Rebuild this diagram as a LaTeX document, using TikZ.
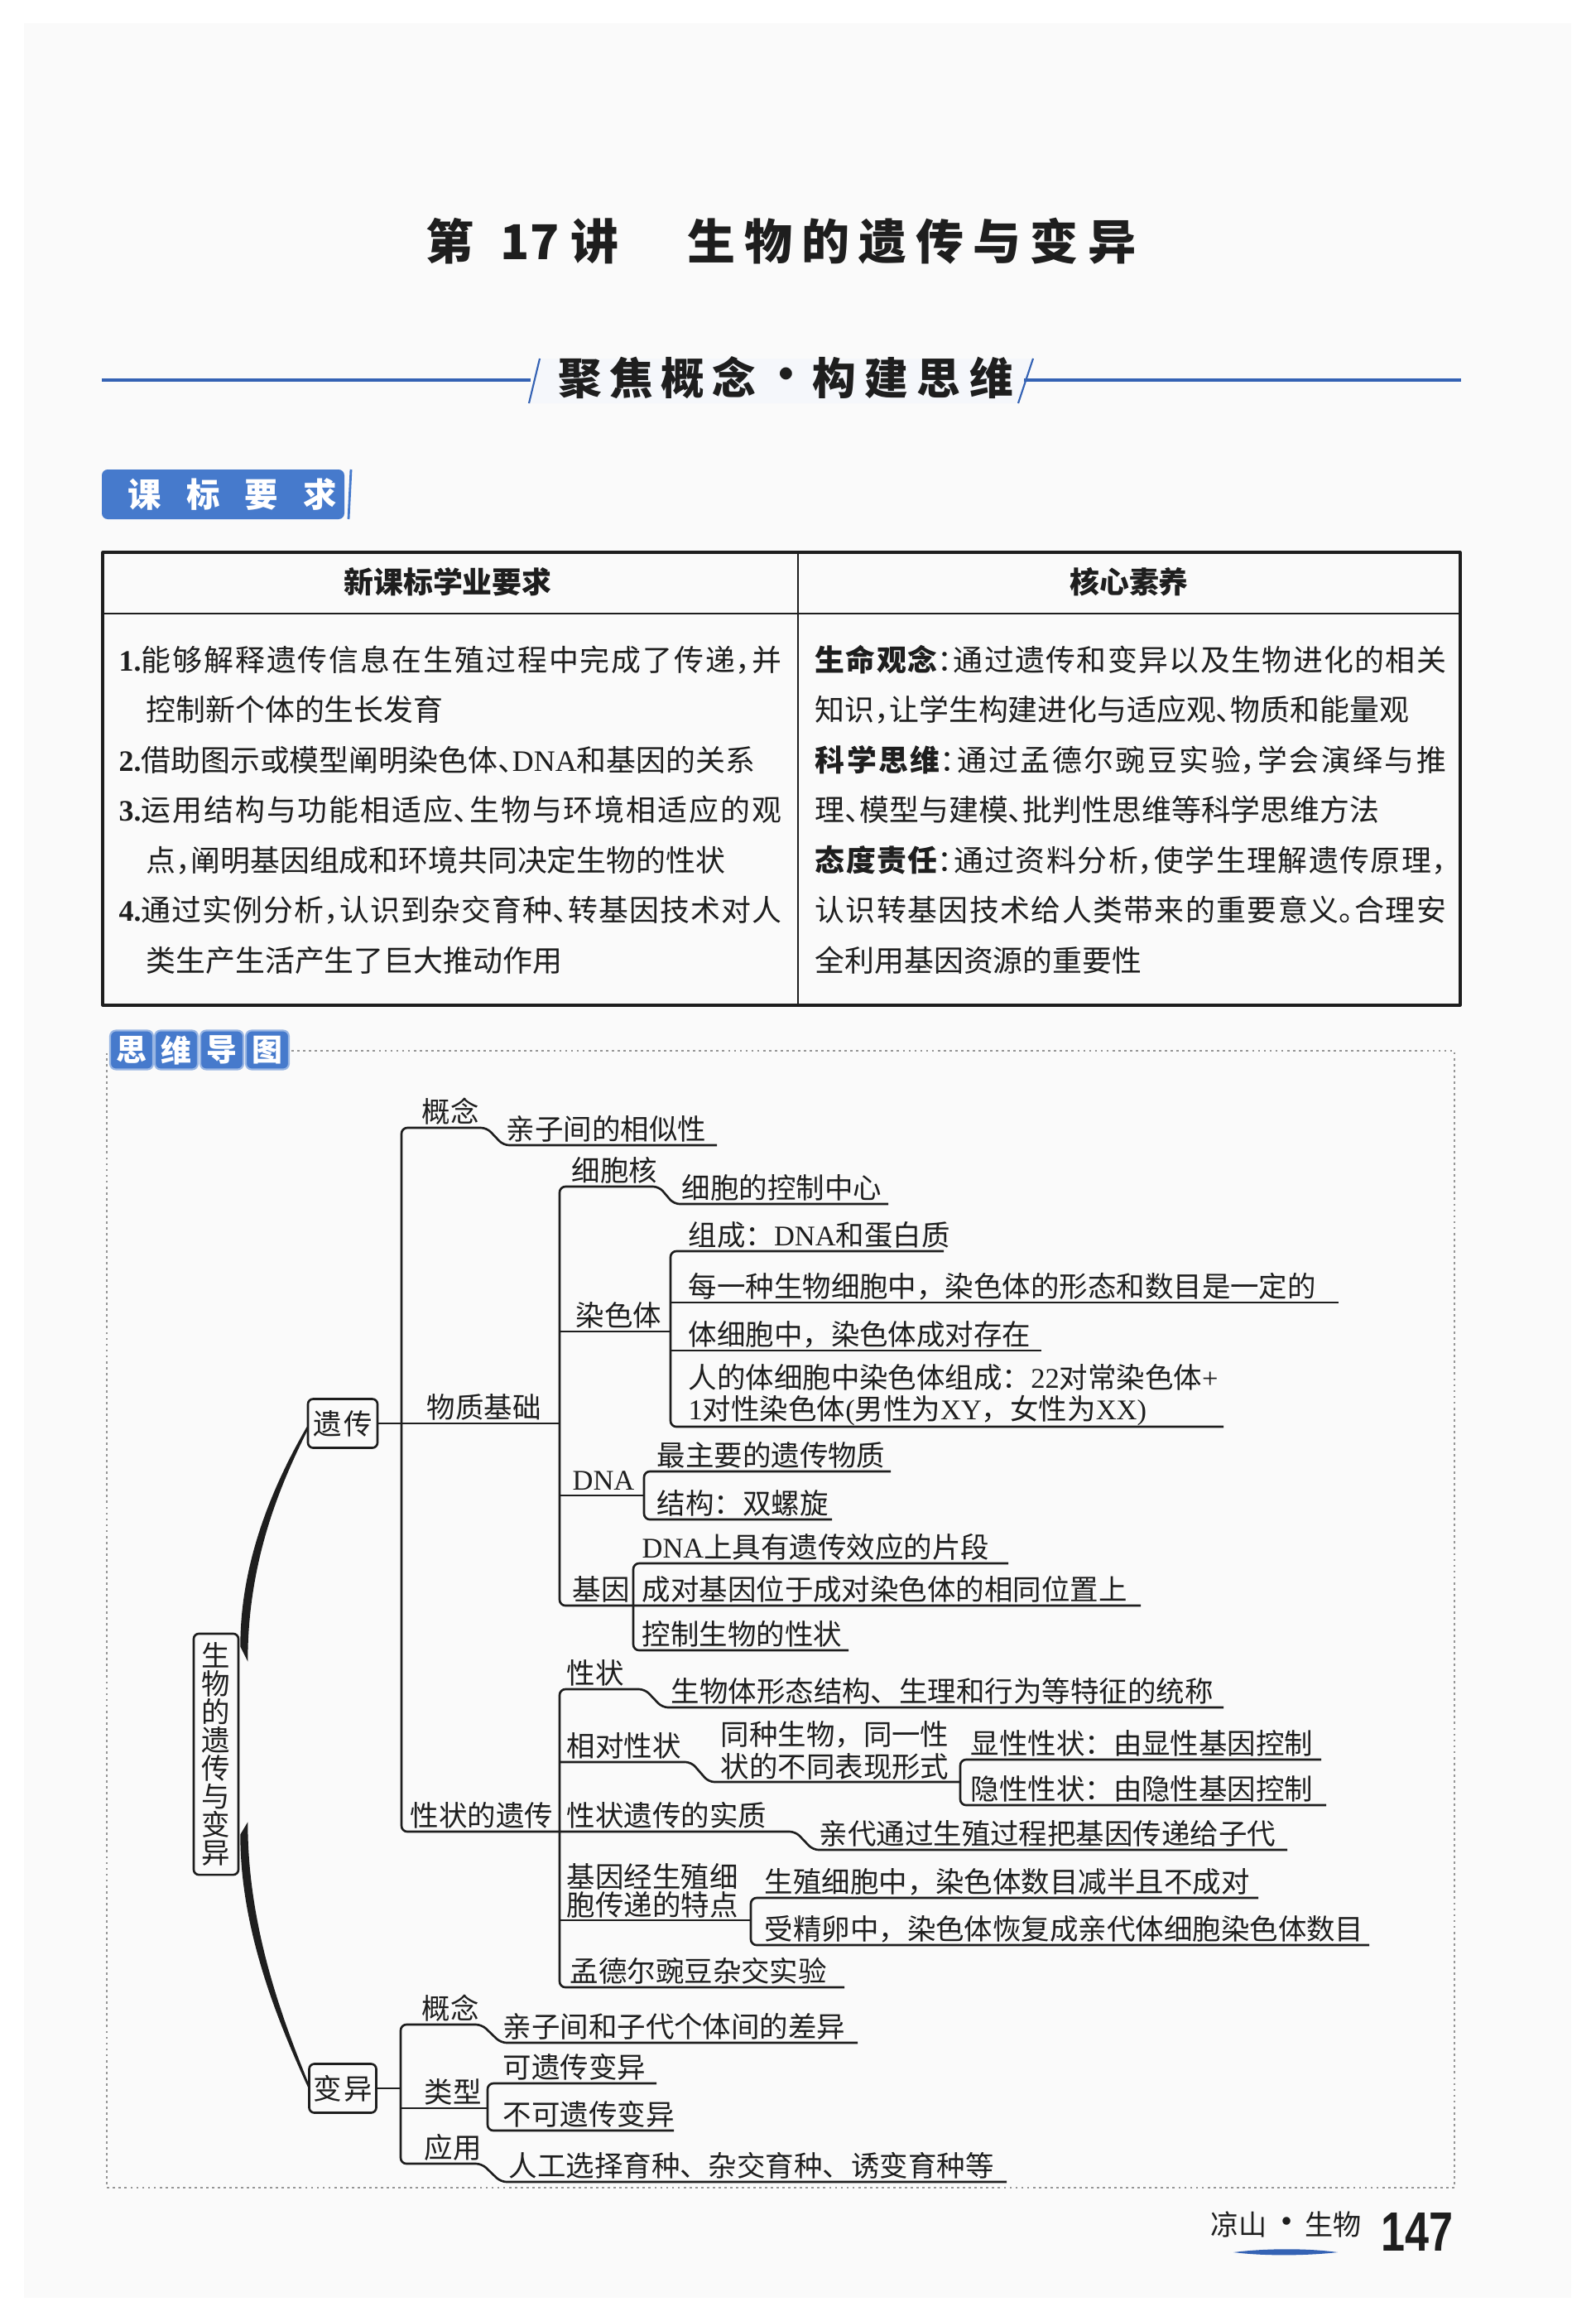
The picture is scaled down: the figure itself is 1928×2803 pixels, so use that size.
\documentclass[tikz,border=0pt]{standalone}
\usepackage{fontspec}
\usepackage{graphicx}
\usetikzlibrary{calc}
\setmainfont{Noto Sans CJK SC}
\newfontfamily\cjk{Noto Sans CJK SC}
\newfontfamily\tabcjk[RawFeature=+halt]{Noto Sans CJK SC}
\newfontfamily\lat{Liberation Serif}
\newfontfamily\arialf{Liberation Sans}
\XeTeXlinebreaklocale "zh"
\XeTeXlinebreakskip=0pt plus 1fil
\definecolor{hblue}{RGB}{52,98,180}
\definecolor{tblue}{RGB}{70,122,204}
\definecolor{ink}{RGB}{30,30,30}
\definecolor{dotgray}{RGB}{150,150,150}
\definecolor{pagebg}{RGB}{250,250,250}
\newcommand\jl[2]{\parbox[b]{#1}{\parfillskip=0pt\relax\noindent#2}}
\newcommand\mmf{\cjk\fontsize{9.8pt}{11pt}\selectfont}
\newcommand\tbf{\tabcjk\fontsize{10.2pt}{12pt}\selectfont}
\begin{document}
\begin{tikzpicture}[x=0.01cm,y=-0.01cm,line join=round,
  tx/.style={anchor=base west,inner sep=0pt,font=\mmf,text=ink},
  tb/.style={anchor=base west,inner sep=0pt,font=\tbf,text=ink},
  ttl/.style={anchor=base west,inner sep=0pt,font=\cjk\bfseries\fontsize{16.5pt}{18pt}\selectfont,text=ink},
  hdr/.style={anchor=base west,inner sep=0pt,font=\cjk\bfseries\fontsize{15pt}{16pt}\selectfont,text=ink},
  ln/.style={draw=ink,line width=0.75pt,rounded corners=2pt},
  mbox/.style={draw=ink,line width=0.75pt,rounded corners=1.8pt,inner sep=0pt,font=\mmf,text=ink},
  tabk/.style={fill=tblue,draw=tblue!55!white,line width=0.6pt,rounded corners=2pt,minimum width=0.52cm,minimum height=0.47cm,inner sep=0pt,text=white,font=\cjk\bfseries\fontsize{10.5pt}{11pt}\selectfont}]
\useasboundingbox (0,0) rectangle (1928,2803);
\fill[white] (0,0) rectangle (1928,2803);
\fill[pagebg] (29,28) rectangle (1898,2775);

% title
\node[ttl] (t1) at (514,314) {第};
\node[ttl] (t2) at (604,314) {17};
\node[ttl] (t3) at (689,314) {讲};
\node[ttl] (t4) at (830,314) {\jl{5.41cm}{生物的遗传与变异}};

% header band
\fill[hblue!5] (652,433) -- (1248,433) -- (1230,487) -- (640,487) -- cycle;
\draw[hblue,line width=1.2pt] (123,459) -- (641,459);
\draw[hblue,line width=1.2pt] (1237,459) -- (1765,459);
\draw[hblue,line width=0.6pt] (639,487) -- (652,433);
\draw[hblue,line width=0.6pt] (1230,487) -- (1248,433);
\node[hdr] (h1) at (674,476) {\jl{2.38cm}{聚焦概念}};
\node[hdr,anchor=center] (hd) at (950,458) {·};
\node[hdr] (h2) at (981,476) {\jl{2.42cm}{构建思维}};

% tab 课标要求
\fill[tblue,rounded corners=2pt] (123,567) rectangle (416,627);
\draw[tblue,line width=0.8pt] (424,567) -- (421,627);
\node[anchor=base west,inner sep=0pt,font=\cjk\bfseries\fontsize{11.5pt}{12pt}\selectfont,text=white] (kb) at (154,612) {\jl{2.52cm}{课标要求}};

% table
\draw[ink,line width=0.9pt] (124,667) rectangle (1764,1214);
\draw[ink,line width=0.55pt] (124,741) -- (1764,741);
\draw[ink,line width=0.55pt] (964,667) -- (964,1214);
\node[inner sep=0pt,font=\tbf\bfseries,text=ink] (th1) at (541,703) {新课标学业要求};
\node[inner sep=0pt,font=\tbf\bfseries,text=ink] (th2) at (1364,703) {核心素养};

\node[tb] (l1) at (143,810) {\jl{8cm}{{\lat\bfseries 1.}能够解释遗传信息在生殖过程中完成了传递，并}};
\node[tb] (l2) at (176,870.5) {控制新个体的生长发育};
\node[tb] (l3) at (143,931) {{\lat\bfseries 2.}借助图示或模型阐明染色体、{\lat DNA}和基因的关系};
\node[tb] (l4) at (143,991.5) {\jl{8cm}{{\lat\bfseries 3.}运用结构与功能相适应、生物与环境相适应的观}};
\node[tb] (l5) at (176,1052) {点，阐明基因组成和环境共同决定生物的性状};
\node[tb] (l6) at (143,1112.5) {\jl{8cm}{{\lat\bfseries 4.}通过实例分析，认识到杂交育种、转基因技术对人}};
\node[tb] (l7) at (176,1173) {类生产生活产生了巨大推动作用};

\node[tb] (r1) at (984,810) {\jl{7.62cm}{\textbf{生命观念}：通过遗传和变异以及生物进化的相关}};
\node[tb] (r2) at (984,870.5) {知识，让学生构建进化与适应观、物质和能量观};
\node[tb] (r3) at (984,931) {\jl{7.62cm}{\textbf{科学思维}：通过孟德尔豌豆实验，学会演绎与推}};
\node[tb] (r4) at (984,991.5) {理、模型与建模、批判性思维等科学思维方法};
\node[tb] (r5) at (984,1052) {\jl{7.62cm}{\textbf{态度责任}：通过资料分析，使学生理解遗传原理，}};
\node[tb] (r6) at (984,1112.5) {\jl{7.62cm}{认识转基因技术给人类带来的重要意义。合理安}};
\node[tb] (r7) at (984,1173) {全利用基因资源的重要性};

% mind map frame
\draw[dotgray,line width=0.45pt,dash pattern=on 0.8pt off 1.2pt] (352,1269) -- (1757,1269) -- (1757,2642) -- (129,2642) -- (129,1272);
\node[tabk] (s1) at (159,1268) {思};
\node[tabk] (s2) at (213,1268) {维};
\node[tabk] (s3) at (268,1268) {导};
\node[tabk] (s4) at (323,1268) {图};

% main boxes
\node[mbox,minimum width=0.54cm,minimum height=2.91cm,align=center,font=\cjk\fontsize{9.8pt}{9.7pt}\selectfont] (root) at (261,2118.5) {生\\物\\的\\遗\\传\\与\\变\\异};
\node[mbox,minimum width=0.84cm,minimum height=0.59cm] (yc) at (414,1719) {遗\kern0.03cm 传};
\node[mbox,minimum width=0.81cm,minimum height=0.59cm] (by) at (414,2522) {变\kern0.03cm 异};

% tapered curves
\fill[ink] ($(root.north east)+(1,17)$) .. controls (290,1880) and (335,1785) .. ($(yc.west)+(0,4)$) -- ($(yc.west)+(1,8)$) .. controls (339,1792) and (299,1885) .. ($(root.north east)+(10,35)$) -- cycle;
\fill[ink] ($(root.south east)+(1,-50)$) .. controls (290,2330) and (335,2440) .. ($(by.west)+(0,-1)$) -- ($(by.west)+(1,-5)$) .. controls (340,2436) and (299,2325) .. ($(root.south east)+(10,-65)$) -- cycle;

% branches of 遗传
\draw[ln] (866,1383) -- (608,1383) -- (588,1362) -- (485,1362) -- (485,2212) -- (961,2212) -- (982,2234) -- (1555,2234);
\draw[ln] (yc.east) -- (676,1719);
\draw[ln] (1073,1454) -- (814,1454) -- (796,1433) -- (676,1433) -- (676,1939) -- (1378,1939);
\draw[ln] (676,1608) -- (810,1608);
\draw[ln] (1140,1511) -- (810,1511) -- (810,1723) -- (1478,1723);
\draw[ln] (810,1573) -- (1617,1573);
\draw[ln] (810,1631) -- (1258,1631);
\draw[ln] (676,1806) -- (778,1806);
\draw[ln] (1076,1777) -- (778,1777) -- (778,1835) -- (1005,1835);
\draw[ln] (1218,1888) -- (765,1888) -- (765,1993) -- (1025,1993);
\draw[ln] (1478,2062) -- (800,2062) -- (779,2040) -- (676,2040) -- (676,2400) -- (1020,2400);
\draw[ln] (676,2128) -- (835,2128) -- (856,2152) -- (1160,2152);
\draw[ln] (1596,2125) -- (1160,2125) -- (1160,2180) -- (1602,2180);
\draw[ln] (676,2319) -- (907,2319);
\draw[ln] (1520,2292) -- (907,2292) -- (907,2349) -- (1654,2349);

% branches of 变异
\draw[ln] (by.east) -- (484,2522);
\draw[ln] (1036,2467) -- (605,2467) -- (582,2445) -- (484,2445) -- (484,2613) -- (582,2613) -- (605,2635) -- (1216,2635);
\draw[ln] (484,2546) -- (589,2546);
\draw[ln] (793,2516) -- (589,2516) -- (589,2573) -- (814,2573);

% texts
\node[tx] (a1) at (509,1355) {概念};
\node[tx] (a2) at (611,1376) {亲子间的相似性};
\node[tx] (a3) at (515,1712) {物质基础};
\node[tx] (a4) at (690,1426) {细胞核};
\node[tx] (a5) at (823,1447) {细胞的控制中心};
\node[tx] (a6) at (695,1601) {染色体};
\node[tx] (a7) at (831,1504) {组成：{\lat DNA}和蛋白质};
\node[tx] (a8) at (831,1566) {每一种生物细胞中，染色体的形态和数目是一定的};
\node[tx] (a9) at (831,1624) {体细胞中，染色体成对存在};
\node[tx] (a10) at (831,1676) {人的体细胞中染色体组成：{\lat 22}对常染色体{\lat +}};
\node[tx] (a11) at (831,1714) {{\lat 1}对性染色体{\lat (}男性为{\lat XY}，女性为{\lat XX)}};
\node[tx] (a12) at (691,1799) {\lat DNA};
\node[tx] (a13) at (793,1770) {最主要的遗传物质};
\node[tx] (a14) at (793,1828) {结构：双螺旋};
\node[tx] (a15) at (691,1932) {基因};
\node[tx] (a16) at (775,1881) {{\lat DNA}上具有遗传效应的片段};
\node[tx] (a17) at (775,1932) {成对基因位于成对染色体的相同位置上};
\node[tx] (a18) at (775,1986) {控制生物的性状};
\node[tx] (a19) at (495,2205) {性状的遗传};
\node[tx] (a20) at (684,2033) {性状};
\node[tx] (a21) at (810,2055) {生物体形态结构、生理和行为等特征的统称};
\node[tx] (a22) at (684,2121) {相对性状};
\node[tx] (a23) at (870,2107) {同种生物，同一性};
\node[tx] (a24) at (870,2146) {状的不同表现形式};
\node[tx] (a25) at (1172,2118) {显性性状：由显性基因控制};
\node[tx] (a26) at (1172,2173) {隐性性状：由隐性基因控制};
\node[tx] (a27) at (684,2205) {性状遗传的实质};
\node[tx] (a28) at (989,2227) {亲代通过生殖过程把基因传递给子代};
\node[tx] (a29) at (684,2279) {基因经生殖细};
\node[tx] (a30) at (684,2313) {胞传递的特点};
\node[tx] (a31) at (923,2285) {生殖细胞中，染色体数目减半且不成对};
\node[tx] (a32) at (923,2342) {受精卵中，染色体恢复成亲代体细胞染色体数目};
\node[tx] (a33) at (688,2393) {孟德尔豌豆杂交实验};
\node[tx] (b1) at (509,2438) {概念};
\node[tx] (b2) at (607,2460) {亲子间和子代个体间的差异};
\node[tx] (b3) at (512,2539) {类型};
\node[tx] (b4) at (607,2509) {可遗传变异};
\node[tx] (b5) at (607,2566) {不可遗传变异};
\node[tx] (b6) at (512,2606) {应用};
\node[tx] (b7) at (614,2628) {人工选择育种、杂交育种、诱变育种等};

% footer
\fill[hblue] (1490,2720) .. controls (1530,2715) and (1580,2715) .. (1616,2720) .. controls (1580,2724) and (1530,2725) .. (1490,2720) -- cycle;
\node[anchor=base west,inner sep=0pt,font=\cjk\fontsize{9.7pt}{10pt}\selectfont,text=ink] (f1) at (1462,2699) {凉山};
\node[inner sep=0pt,font=\cjk\bfseries\fontsize{9.7pt}{10pt}\selectfont,text=ink] (fd) at (1555,2687) {·};
\node[anchor=base west,inner sep=0pt,font=\cjk\fontsize{9.7pt}{10pt}\selectfont,text=ink] (f2) at (1576,2699) {生物};
\node[anchor=base west,inner sep=0pt,font=\arialf\bfseries\fontsize{19pt}{20pt}\selectfont,text=ink] (pg) at (1668,2718) {\scalebox{0.78}[1]{147}};
\end{tikzpicture}
\end{document}
